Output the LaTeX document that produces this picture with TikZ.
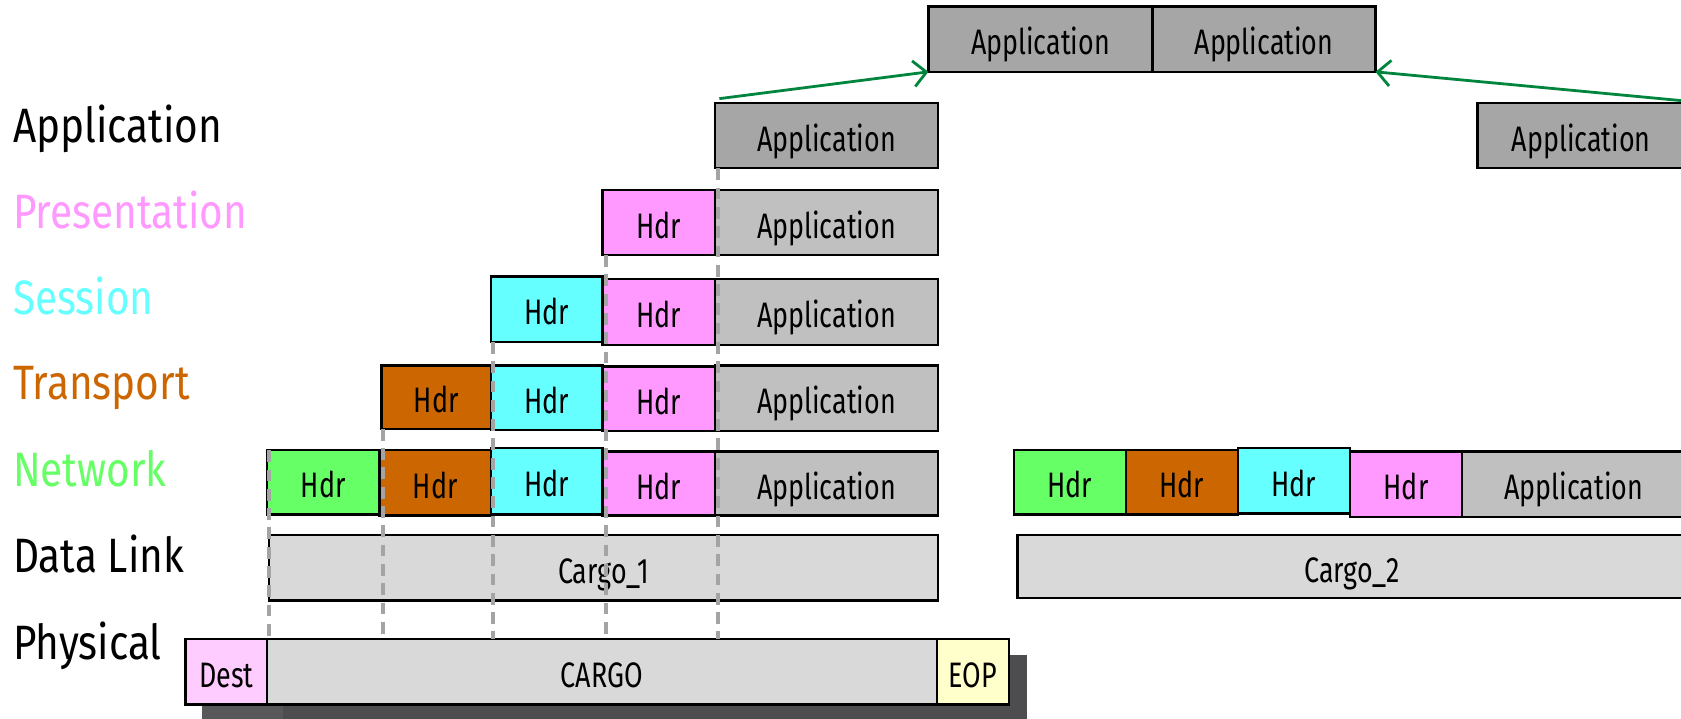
\documentclass[tikz,border=0pt]{standalone}
\usepackage{fontspec}
\setmainfont{Fira Sans}
\newfontfamily\lblfont[FakeStretch=0.84]{Fira Sans}
\newfontfamily\boxfont[FakeStretch=0.76]{Fira Sans}
\usetikzlibrary{arrows.meta}
\definecolor{appdark}{HTML}{A6A6A6}
\definecolor{applight}{HTML}{C0C0C0}
\definecolor{cargoc}{HTML}{D9D9D9}
\definecolor{pinkc}{HTML}{FF99FF}
\definecolor{cyanc}{HTML}{66FFFF}
\definecolor{brownc}{HTML}{CC6600}
\definecolor{greenc}{HTML}{66FF66}
\definecolor{destc}{HTML}{FFCCFF}
\definecolor{eopc}{HTML}{FFFFCC}
\definecolor{shadowc}{HTML}{4D4D50}
\definecolor{shadowl}{HTML}{58585B}
\definecolor{arrowc}{HTML}{00853E}
\definecolor{dashc}{HTML}{A4A4A4}
\begin{document}
\begin{tikzpicture}[x=1pt,y=-1pt,
  bx/.style={draw=black, line width=2.2pt, inner sep=0pt, outer sep=0pt, anchor=north west,
    text height=29pt, text depth=0pt, font=\boxfont\fontsize{33}{33}\selectfont},
  lbl/.style={anchor=base west, inner sep=0pt, font=\lblfont\fontsize{45}{45}\selectfont},
  garrow/.style={draw=arrowc, line width=2.6pt, -{Straight Barb[length=12pt,width=24pt,line width=2.6pt]}},
  dline/.style={draw=dashc, line width=3.5pt, dash pattern=on 11pt off 7pt}
]
\useasboundingbox (0,0) rectangle (1568,670);
\fill[white] (0,0) rectangle (1568,670);

% left labels
\node[lbl, text=black]  (lA) at (12,133) {Application};
\node[lbl, text=pinkc]  (lP) at (12,213) {Presentation};
\node[lbl, text=cyanc]  (lS) at (12,293) {Session};
\node[lbl, text=brownc] (lT) at (12,373) {Transport};
\node[lbl, text=greenc] (lN) at (12,454) {Network};
\node[lbl, text=black]  (lD) at (12,534) {Data Link};
\node[lbl, text=black]  (lPh) at (12,615) {Physical};

% top pair
\node[bx, fill=appdark, minimum width=209pt, minimum height=61pt] (tA1) at (866,6) {Application};
\node[bx, fill=appdark, minimum width=208pt, minimum height=61pt] (tA2) at (1075,6) {Application};

% application row
\node[bx, fill=appdark, minimum width=208pt, minimum height=61pt] (a0) at (667,96) {Application};
\node[bx, fill=appdark, minimum width=194pt, minimum height=61pt] (rA) at (1378,96) {Application};

% presentation row
\node[bx, fill=pinkc, minimum width=105pt, minimum height=61pt] (pH) at (562,177) {Hdr};
\node[bx, fill=applight, minimum width=208pt, minimum height=61pt] (pA) at (667,177) {Application};

% session row
\node[bx, fill=cyanc, minimum width=104pt, minimum height=61pt] (sC) at (458,258) {Hdr};
\node[bx, fill=pinkc, minimum width=105pt, minimum height=62pt] (sP) at (562,260) {Hdr};
\node[bx, fill=applight, minimum width=208pt, minimum height=62pt] (sA) at (667,260) {Application};

% transport row
\node[bx, fill=brownc, minimum width=102pt, minimum height=59pt] (tB) at (356,341) {Hdr};
\node[bx, fill=cyanc, minimum width=104pt, minimum height=60pt] (tC) at (458,341) {Hdr};
\node[bx, fill=pinkc, minimum width=105pt, minimum height=60pt] (tP) at (562,342) {Hdr};
\node[bx, fill=applight, minimum width=208pt, minimum height=61pt] (tA) at (667,341) {Application};

% network row
\node[bx, fill=greenc, minimum width=105pt, minimum height=60pt] (nG) at (249,420) {Hdr};
\node[bx, fill=brownc, minimum width=104pt, minimum height=61pt] (nB) at (354,420) {Hdr};
\node[bx, fill=cyanc, minimum width=104pt, minimum height=62pt] (nC) at (458,418) {Hdr};
\node[bx, fill=pinkc, minimum width=105pt, minimum height=60pt] (nP) at (562,421) {Hdr};
\node[bx, fill=applight, minimum width=208pt, minimum height=60pt] (nA) at (667,421) {Application};

% right network row
\node[bx, fill=greenc, minimum width=104pt, minimum height=60pt] (rG) at (946,420) {Hdr};
\node[bx, fill=brownc, minimum width=105pt, minimum height=60pt] (rB) at (1050,420) {Hdr};
\node[bx, fill=cyanc, minimum width=104pt, minimum height=61pt] (rC) at (1155,418) {Hdr};
\node[bx, fill=pinkc, minimum width=105pt, minimum height=61pt] (rP) at (1259,421) {Hdr};
\node[bx, fill=applight, minimum width=208pt, minimum height=61pt] (rApp) at (1364,421) {Application};

% data link
\node[bx, fill=cargoc, minimum width=624pt, minimum height=61pt] (c1) at (251,499) {Cargo\_1};
\node[bx, fill=cargoc, minimum width=624pt, minimum height=59pt] (c2) at (949,499) {Cargo\_2};

% physical
\fill[shadowl] (188,611) rectangle (264,680);
\fill[shadowc] (264,611) rectangle (958,680);
\node[bx, fill=destc, minimum width=76pt, minimum height=61pt] (dest) at (173,596) {Dest};
\node[bx, fill=cargoc, minimum width=625pt, minimum height=61pt] (cargo) at (249,596) {CARGO};
\node[bx, fill=eopc, minimum width=67pt, minimum height=61pt] (eop) at (874,596) {EOP};

% dashed guide lines
\coordinate (d1) at ([xshift=2pt]nG.north west);
\coordinate (d2) at ([xshift=1pt]tB.south west);
\coordinate (d3) at ([xshift=2pt]sC.south west);
\coordinate (d4) at ([xshift=3pt]pH.south west);
\coordinate (d5) at ([xshift=3pt]a0.south west);
\draw[dline] (d1) -- (d1 |- cargo.north);
\draw[dline] (d2) -- (d2 |- cargo.north);
\draw[dline] (d3) -- (d3 |- cargo.north);
\draw[dline] (d4) -- (d4 |- cargo.north);
\draw[dline] (d5) -- (d5 |- cargo.north);

% arrows
\coordinate (s1) at (671,92);
\coordinate (s2) at (1570,94);
\draw[garrow] (s1) -- (tA1.south west);
\draw[garrow] (s2) -- (tA2.south east);
\end{tikzpicture}
\end{document}
